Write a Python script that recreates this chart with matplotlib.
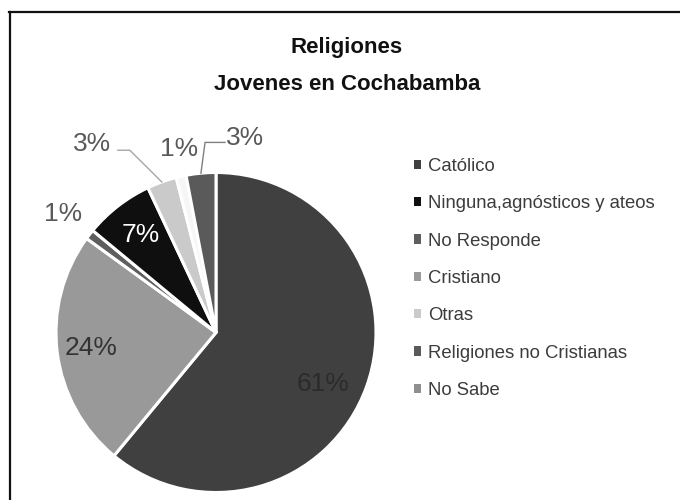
import numpy as np
import matplotlib
matplotlib.use("Agg")
import matplotlib.pyplot as plt
from matplotlib import font_manager as fm
from matplotlib.patches import Patch
from matplotlib.lines import Line2D

# ---------------- data ----------------
slice_labels = ["Católico", "Cristiano", "No Responde", "Ninguna,agnósticos y ateos",
                "Otras", "No Sabe", "Religiones no Cristianas"]
slice_values = [61, 24, 1, 7, 3, 1, 3]
slice_colors = ["#404040", "#999999", "#5e5e5e", "#0f0f0f", "#cacaca", "#f6f6f6", "#5a5a5a"]

legend_labels = ["Católico", "Ninguna,agnósticos y ateos", "No Responde", "Cristiano",
                 "Otras", "Religiones no Cristianas", "No Sabe"]
legend_colors = ["#404040", "#0f0f0f", "#5e5e5e", "#9a9a9a", "#cacaca", "#5a5a5a", "#8f8f8f"]

title_lines = ["Religiones", "Jovenes en Cochabamba"]

names = {f.name for f in fm.fontManager.ttflist}
narrow = "Liberation Sans Narrow" in names
title_family = "Liberation Sans Narrow" if narrow else "Liberation Sans"
title_size = 18 if narrow else 16
body_family = "Liberation Sans"

W, H = 680, 500
fig = plt.figure(figsize=(W / 100, H / 100), dpi=100)
fig.patch.set_facecolor("white")

def fx(px):
    return px / W

def fy(py):
    return 1 - py / H

# border (top + left only)
fig.add_artist(Line2D([fx(9), fx(680)], [fy(12), fy(12)], color="#111111", lw=1.6,
                      transform=fig.transFigure))
fig.add_artist(Line2D([fx(9.5), fx(9.5)], [fy(12), fy(500)], color="#111111", lw=1.6,
                      transform=fig.transFigure))

# title
fig.text(fx(347), fy(53), title_lines[0], ha="center", va="baseline",
         fontsize=title_size, fontweight="bold", family=title_family, color="#111111")
fig.text(fx(347), fy(90), title_lines[1], ha="center", va="baseline",
         fontsize=title_size, fontweight="bold", family=title_family, color="#111111")

# pie
cx, cy, R = 216, 332.5, 160
ax = fig.add_axes([fx(cx - R), fy(cy + R), 2 * R / W, 2 * R / H])
wedges, _ = ax.pie(slice_values, colors=slice_colors, startangle=90, counterclock=False,
                   radius=1.0, wedgeprops=dict(edgecolor="white", linewidth=2.2))
ax.set_xlim(-1, 1)
ax.set_ylim(-1, 1)
ax.set_aspect("equal")
ax.axis("off")

def polar(ang_deg, r):
    a = np.deg2rad(ang_deg)
    return r * np.cos(a), r * np.sin(a)

# label placement: (radius, angle offset deg, color)
label_style = [
    (0.74, -6.0, "#2b2b2b"),   # Católico
    (0.79, 0.0, "#333333"),    # Cristiano
    (1.21, 0.0, "#595959"),    # No Responde
    (0.77, 0.0, "white"),      # Ninguna
    (1.41, 13.5, "#595959"),   # Otras
    (1.17, -1.2, "#595959"),   # No Sabe
    (1.23, -13.9, "#595959"),  # Religiones no Cristianas
]
for w, v, (r, doff, col) in zip(wedges, slice_values, label_style):
    mid = 0.5 * (w.theta1 + w.theta2)
    x, y = polar(mid + doff, r)
    ax.text(x, y, f"{v}%", ha="center", va="center", fontsize=19,
            family=body_family, color=col)

# leader lines: polyline points (radius, angle offset) from slice edge, then horizontal tail
leader_specs = {
    4: ([(1.0, 0.0), (1.26, 5.5)], -0.075, "#a6a6a6"),
    6: ([(1.0, 0.0), (1.19, -2.1)], 0.125, "#7f7f7f"),
}
for idx, (pts, hx, col) in leader_specs.items():
    w = wedges[idx]
    mid = 0.5 * (w.theta1 + w.theta2)
    xs, ys = [], []
    for r, doff in pts:
        x, y = polar(mid + doff, r)
        xs.append(x)
        ys.append(y)
    xs.append(xs[-1] + hx)
    ys.append(ys[-1])
    ax.plot(xs, ys, color=col, lw=1.0, clip_on=False)

# legend
handles = [Patch(facecolor=c, edgecolor="none") for c in legend_colors]
leg = fig.legend(handles, legend_labels, loc="upper left",
                 bbox_to_anchor=(fx(414), fy(158)), frameon=False,
                 handlelength=0.4, handleheight=0.4,
                 handletextpad=0.35, labelspacing=1.1, borderpad=0,
                 borderaxespad=0, prop={"family": body_family, "size": 13.3})
for t in leg.get_texts():
    t.set_color("#3c3c3c")

fig.savefig("out.png", dpi=100, facecolor="white")
